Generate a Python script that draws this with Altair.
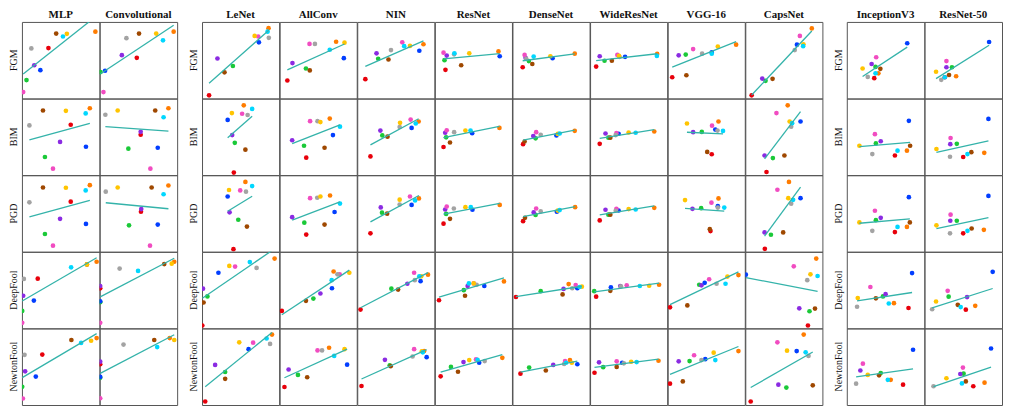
import altair as alt
import pandas as pd

ATTACKS = ["FGM", "BIM", "PGD", "DeepFool", "NewtonFool"]
SERIES = ["red", "green", "brown", "purple", "blue", "pink", "gray", "orange", "yellow", "cyan"]
PALETTE = ["#e8000b", "#1ac938", "#9f4800", "#8b2be2", "#023eff", "#f14cc1", "#a3a3a3", "#ff7c00", "#ffc400", "#00d7ff"]

GROUP_MNIST = ["MLP", "Convolutional"]
GROUP_CIFAR = ["LeNet", "AllConv", "NIN", "ResNet", "DenseNet", "WideResNet", "VGG-16", "CapsNet"]
GROUP_IMAGENET = ["InceptionV3", "ResNet-50"]

# values per attack (FGM, BIM, PGD, DeepFool, NewtonFool), per series in SERIES order
MLP_X = [[27.3, 4.7, 35.3, 12.7, 19, 1.3, 9.7, 75.7, 46.3, 42.3],
         [50.3, 23.7, 21.7, 39.3, 66, 32, 7.7, 70, 45.3, 65.7],
         [50.3, 23.7, 21.7, 39.3, 66, 32, 7.7, 70, 45.3, 65.7],
         [16.3, 0.3, 67, 1.3, 12.3, 0.3, 2, 77, 67, 50.7],
         [21, 0.3, 51, 3.3, 14.3, 1, 2.7, 77, 71.3, 61]]
MLP_Y = [[53, 20, 68, 35.3, 30.3, 7.7, 52.7, 70, 67.7, 65],
         [53, 19.7, 67.7, 35.3, 30.3, 7.7, 52.3, 70, 67.3, 64.7],
         [52.7, 19.3, 67.3, 35, 29.7, 7.3, 52, 69.7, 67, 64.3],
         [52.3, 19, 67, 34.7, 29.7, 6.7, 52, 69.7, 67, 64],
         [53, 19.7, 68, 35.7, 30.3, 7.7, 52.7, 70, 67.3, 65]]

CONV_X = [[38.4, 1, 40.7, 23, 5.7, 4, 27.7, 76.4, 58.4, 65.4],
          [42.4, 29.7, 57.4, 42.4, 60, 52.4, 6, 71, 18.7, 66],
          [42.7, 30.4, 53.7, 43, 60, 52, 6.4, 71, 18.7, 66],
          [0.7, 0.7, 66.7, 0.7, 0.7, 0.7, 20.7, 77, 74.4, 39.7],
          [0.7, 0.7, 56.4, 0.7, 0.7, 0.7, 24.7, 72.4, 77, 59.4]]
CONV_Y = [[43, 28.3, 68, 45.7, 29.7, 7.7, 63.3, 70, 68, 61],
          [42.7, 28.3, 67.7, 45.7, 29.3, 7.7, 63.3, 70, 67.7, 60.7],
          [42.3, 28.3, 67.3, 45, 29, 7.3, 63, 69.3, 67.3, 60.3],
          [42.3, 28, 67.3, 44.7, 29, 6.7, 62.7, 69.7, 67.7, 60.3],
          [43, 29, 68, 45.7, 30, 8, 63.3, 70, 68, 60.7]]

LENET_X = [[7.3, 32, 23.3, 16, 59, 58.3, 69.3, 69, 54.6, 68],
           [33, 34, 45, 31.3, 26.6, 41.6, 47.3, 43.3, 31, 52],
           [32.6, 37.6, 46.6, 28.6, 26.6, 39.6, 45.6, 45, 28, 52],
           [0.3, 5.6, 1.6, 1, 17, 34.3, 56.6, 75.3, 28.3, 49.6],
           [3.3, 24, 24, 13.6, 48.3, 53, 70.6, 72.6, 38.6, 67]]
LENET_Y = [[4.3, 34.6, 28, 42.3, 59, 65, 63.6, 73.6, 65.6, 70],
           [3.7, 34.3, 27.3, 42.3, 58, 64.3, 63, 73, 65, 69.3],
           [3.7, 34, 27, 41.7, 58, 64.3, 63, 73, 64.7, 68.7],
           [4, 34, 27.7, 42, 58.4, 64.7, 63.4, 73, 65.4, 69.4],
           [4.6, 35, 28, 42.3, 58.6, 65.3, 64, 73.6, 65.6, 69.6]]

ALLCONV_X = [[8, 27.3, 31.3, 13.3, 66.6, 31, 36.6, 58.6, 67.3, 52],
             [27.6, 25.3, 46.6, 13, 55.3, 31.6, 39.3, 52, 42.3, 62.6],
             [27.6, 25.6, 46.6, 13, 57, 31.6, 39, 52.3, 42.3, 62.6],
             [2.3, 35, 27.3, 42.3, 54.3, 62.3, 60, 56, 72.3, 54],
             [5, 19, 28.6, 9.3, 70, 39.3, 44, 51.3, 67.3, 56.6]]
ALLCONV_Y = [[19.6, 32, 30, 37.6, 42.6, 57.3, 57.3, 59.6, 58.6, 51.3],
             [19, 31.3, 29.3, 37, 42.3, 56.7, 56.7, 59.3, 55.7, 51],
             [18.7, 31, 29, 36.7, 42, 56.3, 56.7, 59, 58, 50.7],
             [19, 31.7, 29.4, 37, 42.4, 56.7, 56.7, 59.7, 58.4, 50.7],
             [19.6, 32, 29.6, 37.6, 42.6, 57.3, 57.3, 60, 58.6, 51.6]]

NIN_X = [[8.4, 21.7, 32.4, 20, 64.4, 46.7, 35, 68.7, 54.7, 48.7],
         [13.7, 26, 31.4, 24, 56.4, 55.4, 44, 63.7, 44.4, 60.7],
         [13.7, 25.7, 31, 24.4, 56.4, 54.7, 44, 64, 44, 60],
         [3.4, 35.4, 42.4, 52, 65.7, 59, 59.7, 73.4, 66.4, 64.4],
         [4.4, 33.7, 34.7, 28.7, 72, 59, 57.4, 69.4, 67, 68]]
NIN_Y = [[21, 42, 41.3, 47.6, 50.3, 59, 51, 57, 55.3, 55],
         [20.3, 42, 40.7, 47, 49.7, 58.3, 50.7, 56.3, 55, 54.3],
         [20, 41.3, 40.3, 46.7, 49.3, 58, 49.7, 56, 54.7, 54],
         [20.4, 42, 41, 47, 49.7, 58.4, 50.7, 56.4, 54.7, 54.7],
         [20.6, 42, 41, 47.6, 50.3, 58.6, 51, 56.6, 56.4, 55.3]]

RESNET_X = [[11, 10, 27.3, 12.3, 67.3, 9, 20, 66, 35.7, 20.3],
            [9, 11.7, 15.7, 10.7, 38.7, 12.3, 20, 67, 31.7, 37],
            [9, 11.7, 15.7, 10.7, 39, 12.3, 19.7, 67.3, 31.7, 37.3],
            [4.3, 30, 31.3, 34, 51.3, 40.3, 43.3, 71.7, 40.3, 35.3],
            [6, 16.7, 24, 29.7, 46, 42.7, 51.7, 70, 35.7, 44.3]]
RESNET_Y = [[30.6, 40.6, 35.3, 45.3, 44.6, 48.3, 46.6, 49.6, 47.6, 47.6],
            [30, 40, 34.7, 44.7, 44.3, 47.3, 45.3, 49.7, 47, 47],
            [30, 40, 35, 44.6, 44.3, 47.6, 45.6, 49.3, 47, 47],
            [30, 40.4, 34.7, 44.7, 44.7, 47.4, 46, 49.4, 47.4, 47.4],
            [30.6, 40.3, 35.3, 45.3, 44.6, 48, 46.3, 49.6, 47.3, 47.6]]

DENSENET_X = [[10.6, 17, 20.6, 13.6, 41.6, 12.6, 14.3, 64.6, 39.3, 22],
              [11, 24, 12.6, 21.6, 45.6, 24.6, 29.3, 64.6, 47, 49],
              [11, 24, 13, 22, 46, 24.6, 29.3, 65, 47, 49],
              [3.6, 29.3, 52, 53, 67.3, 65.6, 62, 58.3, 72, 69.6],
              [8.3, 17.3, 34.6, 42.3, 67.3, 54.6, 53.6, 59.6, 61.6, 55.6]]
DENSENET_Y = [[33.3, 39.6, 36.6, 43, 42.6, 46, 42, 47.3, 44.6, 44.3],
              [33, 39, 35.7, 41.3, 42, 45.3, 42.7, 46.7, 43.5, 44],
              [32.6, 39, 36, 41.6, 42.3, 45.6, 42.6, 47, 43.5, 44],
              [33.4, 39.4, 36, 41.7, 42.4, 45.7, 42.4, 46.7, 44, 43.7],
              [33.3, 39.6, 36.6, 42.3, 43, 46.3, 43.3, 47.3, 44.6, 44.6]]

WIDERESNET_X = [[6.3, 15, 22.6, 10, 36.3, 28.3, 30.6, 69.6, 30, 69.3],
                [10, 19, 21, 16, 29.6, 27.3, 26.6, 66.6, 40, 47.3],
                [10, 19, 21, 16, 29.6, 27.3, 26.6, 66.6, 40, 47.3],
                [6.3, 4.3, 21, 31.3, 21.6, 38, 32, 71.6, 61.3, 51.6],
                [4.6, 13.6, 27.6, 9.3, 33.3, 27.6, 35, 71, 42.6, 48.3]]
WIDERESNET_Y = [[34, 40, 40, 44.6, 44, 46, 44, 47, 45, 45],
                [33.3, 39.7, 39.7, 44, 43.7, 44.3, 42.3, 46, 45, 44.7],
                [33.3, 39.3, 39.3, 44.3, 43.6, 45.3, 43.3, 46.3, 45, 44.6],
                [33.7, 39.4, 39.7, 44.7, 43.4, 45.4, 44.4, 46, 45, 44.7],
                [34.3, 40, 40.3, 45, 44.6, 46, 44, 46.6, 45.6, 45.3]]

VGG16_X = [[4.7, 18.7, 19.4, 11.4, 45.7, 26.4, 35.7, 71, 52, 45.7],
           [45.7, 35.4, 41, 26.4, 49.4, 46, 51.7, 52.7, 20, 57.4],
           [44.4, 34.7, 43.7, 25.7, 52, 45.4, 52, 52.7, 18, 58.7],
           [2.4, 32.7, 20.4, 35, 38.4, 43, 50.7, 73.4, 62, 60],
           [2.4, 22.7, 15.7, 11.4, 39, 27.4, 35, 73.4, 47.7, 49.4]]
VGG16_Y = [[23, 46.3, 25, 45.6, 48.6, 52, 47.3, 56.6, 54.6, 47.3],
           [22.6, 45.6, 25, 45.3, 48, 52, 47, 56.3, 54.3, 46.6],
           [22.3, 46, 24.3, 45.3, 48, 51.6, 46.6, 56, 54.3, 46.6],
           [22.7, 46, 24.7, 45.4, 48, 51.7, 47, 56, 54.4, 47],
           [23, 46.3, 25.3, 46, 48.3, 52.3, 47.3, 56.6, 55, 47.3]]

CAPSNET_X = [[6.6, 21, 28.3, 17.6, 53.6, 56.6, 51.3, 69, 60.3, 60],
             [22, 28.6, 40.6, 20, 57.3, 32.3, 47.6, 44, 46, 48.6],
             [20.3, 26.6, 39.3, 20, 57.3, 33.3, 47.6, 45.3, 44.6, 49.6],
             [65, 66.6, 72.3, 56, 0.6, 50.3, 64.3, 73.6, 67.6, 75],
             [5.6, 42.6, 70, 34.3, 53.3, 33.3, 65.6, 60.6, 43.3, 62.6]]
CAPSNET_Y = [[4.3, 19.3, 21.3, 21.6, 56.6, 65.6, 51, 73.3, 57, 55],
             [4.3, 18.6, 21.3, 21.3, 56.3, 65, 51, 73, 56.3, 54.6],
             [4, 18.6, 21, 21, 56.3, 65, 50.6, 73, 56.3, 54.6],
             [4, 18.7, 21.4, 21.7, 56.4, 65, 50.7, 73, 56.7, 55],
             [4.6, 19, 21.3, 22, 56.6, 65.6, 51.6, 73.6, 57, 55.3]]

INCEPTION_X = [[28.3, 29.6, 34.6, 25.6, 62.3, 30.3, 21.6, 32.6, 16.3, 29.6],
               [49.6, 30, 65.3, 35, 64, 29, 26.3, 62, 13, 52.3],
               [49.6, 30, 65, 35, 64, 29, 26.3, 62, 13, 52.3],
               [63.6, 37.3, 30, 40, 67.3, 24.3, 10.6, 48.6, 11.3, 43.3],
               [58, 35, 33.3, 14, 68.3, 16.6, 9.6, 45.3, 21.6, 42.3]]
INCEPTION_Y = [[22, 33.6, 31.6, 36.6, 58, 43.6, 23.3, 27, 32, 27],
               [21.3, 33.7, 31.3, 36, 57, 43.3, 22.7, 26.3, 31.3, 26.3],
               [21.3, 33.6, 31.3, 36, 57.3, 43.3, 22.6, 26.6, 31.3, 26.6],
               [22, 34, 32, 36.3, 58, 43.7, 23.3, 27, 32.3, 26.7],
               [22, 34, 31.6, 36.6, 58, 43.6, 23, 27, 32, 27]]

RESNET50_X = [[21, 28.4, 25.4, 22.7, 66.7, 22.7, 17.4, 32.7, 12, 21],
              [40, 33.4, 48.4, 26.7, 66, 27, 26.4, 61.7, 12.4, 44.4],
              [40, 33.4, 48.7, 26.7, 66, 27, 26.4, 61.3, 12.4, 44.4],
              [42.7, 25, 34.4, 44, 70.4, 24, 8, 52.4, 12, 37.4],
              [50.4, 40.4, 42.7, 37, 68.7, 39.7, 9.4, 62, 22.7, 38.7]]
RESNET50_Y = [[23, 33.3, 25.3, 33.3, 59.3, 39.6, 20.3, 24, 28.6, 23],
              [19.7, 33.3, 24.7, 33, 59, 39.3, 20, 24, 28, 22.7],
              [20, 33, 25, 33, 58.6, 39.3, 20, 23.6, 28.3, 22.6],
              [20.3, 33.7, 25.3, 33.3, 59.3, 39.7, 20.7, 24.3, 28.7, 23],
              [20.3, 33.3, 25.3, 33, 59.3, 39.6, 20.3, 24, 28.6, 23.3]]

MODEL_VALUES = {
    "MLP": (MLP_X, MLP_Y), "Convolutional": (CONV_X, CONV_Y),
    "LeNet": (LENET_X, LENET_Y), "AllConv": (ALLCONV_X, ALLCONV_Y),
    "NIN": (NIN_X, NIN_Y), "ResNet": (RESNET_X, RESNET_Y),
    "DenseNet": (DENSENET_X, DENSENET_Y), "WideResNet": (WIDERESNET_X, WIDERESNET_Y),
    "VGG-16": (VGG16_X, VGG16_Y), "CapsNet": (CAPSNET_X, CAPSNET_Y),
    "InceptionV3": (INCEPTION_X, INCEPTION_Y), "ResNet-50": (RESNET50_X, RESNET50_Y),
}

rows = []
for model, (xs, ys) in MODEL_VALUES.items():
    for ai, attack in enumerate(ATTACKS):
        for si, s in enumerate(SERIES):
            rows.append({"model": model, "attack": attack, "series": s,
                         "order": si, "x": xs[ai][si], "y": ys[ai][si]})
df = pd.DataFrame(rows)

SERIF = "Liberation Serif"
LINE_COLOR = "#34b3aa"
CELL_H = 77


def panel(models, cell_w):
    d = df[df["model"].isin(models)]
    xs = alt.Scale(domain=[0, 80], nice=False, zero=False)
    ys = alt.Scale(domain=[1, 80], nice=False, zero=False)
    pts = alt.Chart().mark_circle(size=22, opacity=1, clip=True).encode(
        x=alt.X("x:Q", scale=xs, axis=None),
        y=alt.Y("y:Q", scale=ys, axis=None),
        color=alt.Color("series:N", scale=alt.Scale(domain=SERIES, range=PALETTE), legend=None),
        order=alt.Order("order:Q"),
    )
    reg = alt.Chart().transform_regression(
        "x", "y", groupby=["model", "attack"]
    ).mark_line(color=LINE_COLOR, strokeWidth=1.3, clip=True).encode(
        x=alt.X("x:Q", scale=xs, axis=None),
        y=alt.Y("y:Q", scale=ys, axis=None),
    )
    lab = alt.Chart().transform_filter(
        f"datum.model == '{models[0]}' && datum.series == 'red'"
    ).mark_text(angle=270, align="center", baseline="bottom", font=SERIF,
                fontSize=10, color="#111").encode(
        x=alt.value(-3), y=alt.value(CELL_H / 2), text="attack:N"
    )
    layer = alt.layer(pts, reg, lab, data=d).properties(width=cell_w, height=CELL_H)
    return layer.facet(
        row=alt.Row("attack:N", sort=ATTACKS, title=None, header=alt.Header(labels=False)),
        column=alt.Column("model:N", sort=models, title=None,
                          header=alt.Header(labelOrient="top", labelFont=SERIF, labelFontSize=11,
                                            labelFontWeight="bold", labelPadding=2, labelColor="#111")),
        spacing=0,
        bounds="flush",
    )


chart = alt.hconcat(
    panel(GROUP_MNIST, 78),
    panel(GROUP_CIFAR, 77.5),
    panel(GROUP_IMAGENET, 78),
    spacing=10,
).properties(
    padding=0, background="white"
).configure_view(
    stroke="#555", strokeWidth=1
)

chart.save("out.html", embed_options={"renderer": "svg", "actions": False})
